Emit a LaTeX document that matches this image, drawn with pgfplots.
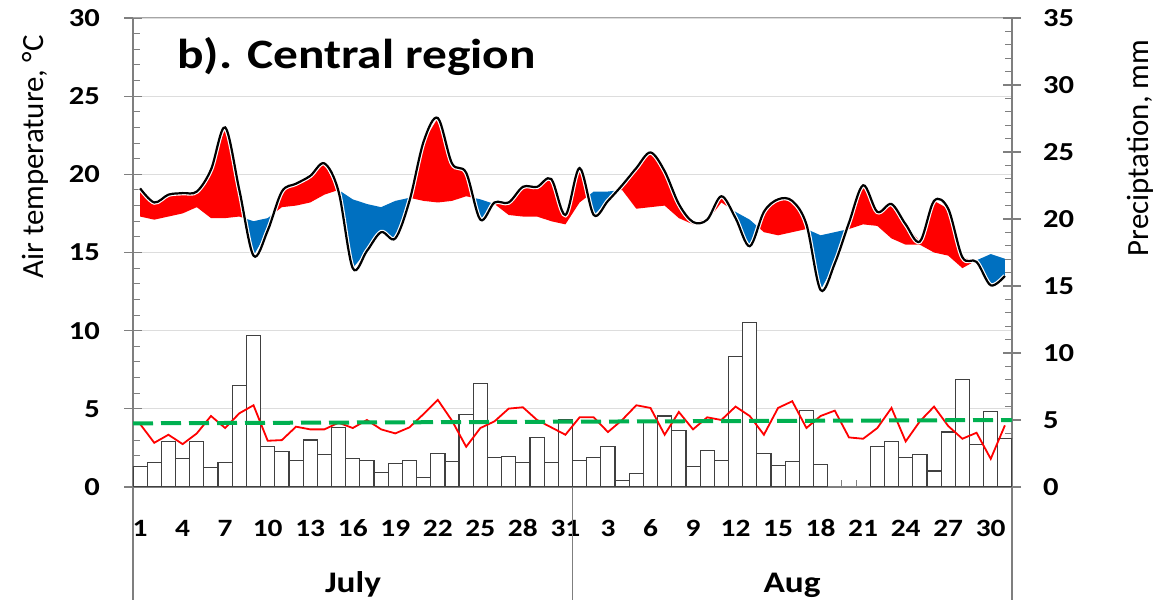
\documentclass[border=0pt]{standalone}
\usepackage{fontspec}
\setmainfont{Carlito}[FakeStretch=1.18]
\newfontfamily\lblfont{Carlito}
\usepackage{pgfplots}
\usepackage{pgfplotstable}
\usepgfplotslibrary{fillbetween}
\pgfplotsset{compat=1.18}
\definecolor{cRed}{HTML}{FF0000}
\definecolor{cBlue}{HTML}{0070C0}
\definecolor{cGreen}{HTML}{00B050}
\definecolor{axgray}{HTML}{7F7F7F}
\definecolor{gridgray}{HTML}{DDDDDD}

\pgfplotstableread{
d T N P R
1 19.1 17.3 1.55 4.7
2 18.2 17.1 1.85 3.3
3 18.7 17.3 3.4 3.9
4 18.8 17.5 2.1 3.2
5 18.9 17.9 3.4 4.0
6 20.3 17.2 1.45 5.3
7 23.0 17.2 1.8 4.4
8 19.0 17.3 7.6 5.5
9 14.8 17.0 11.3 6.1
10 16.4 17.2 3.05 3.45
11 18.9 17.9 2.65 3.5
12 19.4 18.0 2.0 4.5
13 19.9 18.2 3.5 4.3
14 20.7 18.7 2.4 4.3
15 18.9 19.0 4.45 4.8
16 14.0 18.4 2.1 4.4
17 15.1 18.1 2.0 5.0
18 16.3 17.9 1.1 4.3
19 15.9 18.3 1.75 4.0
20 18.3 18.5 1.95 4.45
21 22.1 18.3 0.7 5.45
22 23.6 18.2 2.5 6.5
23 20.7 18.3 1.9 4.95
24 20.1 18.6 5.4 3.0
25 17.1 18.4 7.7 4.4
26 18.2 18.1 2.2 4.9
27 18.2 17.4 2.3 5.85
28 19.2 17.3 1.85 5.95
29 19.2 17.3 3.7 5.0
30 19.7 17.0 1.8 4.45
31 17.4 16.8 5.05 3.9
32 20.4 18.2 2.0 5.2
33 17.4 18.9 2.2 5.2
34 18.3 18.9 3.0 4.1
35 19.3 19.0 0.5 5.0
36 20.4 17.8 1.0 6.1
37 21.4 17.9 4.8 5.9
38 20.2 18.0 5.3 3.9
39 18.1 17.2 4.2 5.6
40 16.95 16.8 1.55 4.3
41 17.1 17.0 2.7 5.2
42 18.6 18.2 2.0 5.0
43 17.2 17.6 9.75 6.0
44 15.4 17.1 12.3 5.3
45 17.6 16.3 2.5 3.9
46 18.4 16.1 1.6 5.9
47 18.3 16.3 1.9 6.4
48 16.8 16.5 5.7 4.4
49 12.6 16.1 1.7 5.3
50 14.3 16.3 0 5.7
51 16.9 16.5 0 3.7
52 19.3 16.8 0 3.6
53 17.6 16.7 3.05 4.4
54 18.1 15.9 3.4 5.9
55 16.8 15.5 2.2 3.4
56 15.7 15.5 2.45 4.9
57 18.3 15.0 1.2 6.0
58 17.8 14.8 4.1 4.55
59 14.7 14.0 8.0 3.6
60 14.4 14.5 3.2 4.05
61 12.9 14.9 5.65 2.1
62 13.5 14.6 3.6 4.6
}\data

\begin{document}
\begin{tikzpicture}
\begin{axis}[
  at={(133bp,118bp)}, anchor=south west,
  scale only axis, width=879bp, height=469bp,
  xmin=0.5, xmax=62.5, ymin=0, ymax=30,
  axis x line*=bottom, axis y line*=left,
  axis line style={draw=axgray, line width=1.3bp},
  ytick={0,5,...,30}, minor y tick num=4,
  xtick={1,4,...,61},
  xticklabels={1,4,7,10,13,16,19,22,25,28,31,3,6,9,12,15,18,21,24,27,30},
  minor xtick={0.5,1.5,...,62.5},
  tick align=inside,
  major tick length=18bp, minor tick length=7bp,
  major y tick style={xshift=-9bp, draw=axgray, line width=1.2bp},
  minor y tick style={draw=axgray, line width=1bp},
  major x tick style={draw=none},
  minor x tick style={draw=axgray, line width=1bp},
  ymajorgrids, major grid style={draw=gridgray, line width=1.2bp},
  /pgf/number format/assume math mode=true,
  tick label style={font=\fontsize{26}{26}\selectfont\bfseries},
  yticklabel style={anchor=east, inner sep=0pt, xshift=-33bp},
  xticklabel style={anchor=base, inner sep=0pt, yshift=-50bp, font=\fontsize{25}{25}\selectfont\bfseries},
  clip=false,
]
\addplot[draw=none, name path=A] table[x=d,y=T]{\data};
\addplot[draw=none, name path=N] table[x=d,y=N]{\data};
\addplot[draw=none, fill=cRed] fill between[of=A and N, split,
  every even segment/.style={fill=cRed},
  every odd segment/.style={fill=cBlue}];
\addplot[white, line width=4.5bp, smooth, tension=0.55] table[x=d,y=T]{\data};
\addplot[black, line width=2.2bp, smooth, tension=0.55] table[x=d,y=T]{\data};
\draw[axgray, line width=1.3bp] (rel axis cs:0,0) -- ++(0pt,-113bp);
\draw[axgray, line width=1.3bp] (rel axis cs:1,0) -- ++(0pt,-113bp);
\draw[axgray, line width=1.3bp] (axis cs:31.5,0) -- ++(0pt,-113bp);
\draw[axgray!70, line width=1bp] (rel axis cs:0,1) -- (rel axis cs:1,1);
\end{axis}
\begin{axis}[
  at={(133bp,118bp)}, anchor=south west,
  scale only axis, width=879bp, height=469bp,
  xmin=0.5, xmax=62.5, ymin=0, ymax=35,
  axis x line=none, axis y line*=right,
  axis line style={draw=axgray, line width=1.3bp},
  ytick={0,5,...,35}, minor y tick num=4,
  tick align=inside,
  major tick length=18bp, minor tick length=7bp,
  major y tick style={xshift=9bp, draw=axgray, line width=1.2bp},
  minor y tick style={draw=axgray, line width=1bp},
  /pgf/number format/assume math mode=true,
  tick label style={font=\fontsize{26}{26}\selectfont\bfseries},
  yticklabel style={anchor=west, inner sep=0pt, xshift=31bp},
]
\addplot[ybar, bar width=1, fill=white, draw=black!75, line width=1.2bp,
  y filter/.expression={y==0 ? nan : y}] table[x=d,y=P]{\data};
\addplot[cRed, line width=1.8bp, sharp plot] table[x=d,y=R]{\data};
\addplot[cGreen, line width=4bp, dash pattern=on 20bp off 8bp] coordinates {(0.5,4.75) (62.5,5.0)};
\end{axis}
\node[anchor=base west, inner sep=0pt, font=\fontsize{42}{42}\selectfont\bfseries] at (177bp,536bp) {b). Central region};
\node[rotate=90, inner sep=0pt, font=\lblfont\fontsize{31}{31}\selectfont] at (35bp,448bp) {Air temperature, °C};
\node[rotate=90, inner sep=0pt, font=\lblfont\fontsize{31}{31}\selectfont] at (1140bp,457bp) {Preciptation, mm};
\node[anchor=base, inner sep=0pt, font=\fontsize{30}{30}\selectfont\bfseries] at (353bp,13bp) {July};
\node[anchor=base, inner sep=0pt, font=\fontsize{30}{30}\selectfont\bfseries] at (792bp,13bp) {Aug};
\pgfresetboundingbox
\path[use as bounding box] (0,0) rectangle (1175bp,605bp);
\end{tikzpicture}
\end{document}
